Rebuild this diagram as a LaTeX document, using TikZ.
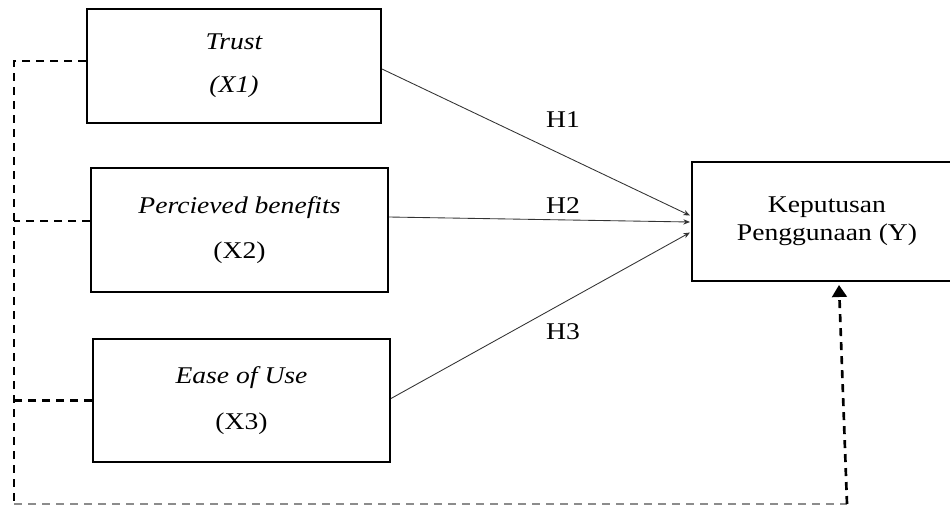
\documentclass[tikz,border=0pt]{standalone}
\usepackage{fontspec}
\setmainfont{Liberation Serif}[FakeStretch=1.15]
\usetikzlibrary{arrows.meta,calc}

\tikzset{
  varbox/.style={draw, line width=1.5pt, rectangle, align=center, inner sep=0pt,
    font=\fontsize{18}{31}\selectfont},
  hyp/.style={draw=black!80, line width=0.65pt, -{Stealth[length=5pt,width=4pt]}},
  hlabel/.style={font=\fontsize{18}{20}\selectfont},
  ctrl/.style={line width=2pt, dash pattern=on 6pt off 4.5pt},
}

\begin{document}
\begin{tikzpicture}[x=0.75pt, y=-0.75pt]
  \useasboundingbox (0,0) rectangle (950,508);
  \clip (0,0) rectangle (950,508);

  % independent variables
  \node[varbox, minimum width=220.5pt, minimum height=85.5pt] (x1) at (234,66)
    {\raisebox{4pt}{\itshape Trust}\\ \raisebox{3pt}{\itshape (X1)}};
  \node[varbox, minimum width=222.75pt, minimum height=93pt] (x2) at (239.5,230)
    {\raisebox{5pt}{\itshape Percieved benefits}\\ \raisebox{2pt}{(X2)}};
  \node[varbox, minimum width=222.75pt, minimum height=92.25pt] (x3) at (241.5,400.5)
    {\raisebox{3pt}{\itshape Ease of Use}\\ (X3)};

  % dependent variable (box runs past the right edge)
  \node[varbox, minimum width=202.5pt, minimum height=89.25pt,
        font=\fontsize{18}{21}\selectfont] (y) at (827,221.5)
    {\raisebox{4pt}{Keputusan}\\ \raisebox{4pt}{Penggunaan (Y)}};

  % hypothesis paths
  \draw[hyp] ($(x1.east)+(0,3)$) -- ($(y.west)+(-1,-6)$);
  \draw[hyp] ($(x2.east)+(0,-13)$) -- ($(y.west)+(-1,0.5)$);
  \draw[hyp] ($(x3.east)+(0,-2)$) -- ($(y.west)+(-1,11)$);

  \node[hlabel] (h1) at (563,120) {H1};
  \node[hlabel] (h2) at (563,206) {H2};
  \node[hlabel] (h3) at (563,332) {H3};

  % simultaneous effect (dashed)
  \coordinate (tl) at (14,61);
  \coordinate (bl) at (14,504);
  \coordinate (br) at (847,504);
  \draw[ctrl] ($(x1.west)+(0,-5)$) -- (tl) -- (bl);
  \draw[ctrl] ($(x2.west)+(0,-9)$) -- (14,221);
  \draw[ctrl] (x3.west) -- (14,400.5);
  \draw[ctrl, draw=black!45, line width=1.6pt] (bl) -- (br);
  \draw[ctrl, -{Triangle[length=9pt,width=11pt]}] (br) -- ($(y.south)+(12,3)$);
\end{tikzpicture}
\end{document}
